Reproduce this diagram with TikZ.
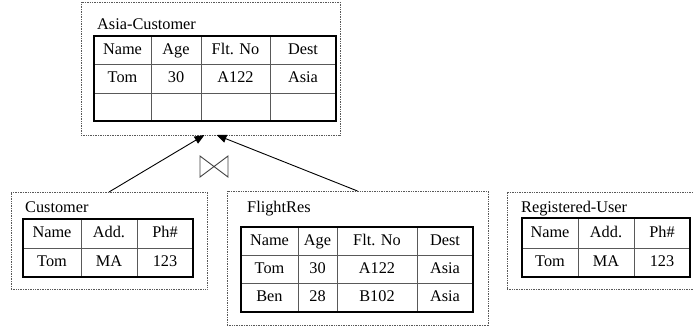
\documentclass[tikz,border=0pt]{standalone}
\usepackage{fontspec}
\setmainfont{Liberation Serif}
\usepackage{tikz}
\usetikzlibrary{arrows.meta,calc}
\tikzset{
    % dotted frame round each relation
    relbox/.style={
        rectangle,
        draw=gray!70!black,
        dash pattern=on 1pt off 0.7pt,
        line width=0.9pt,
        outer sep=0pt,
        inner sep=0pt,
    },
    % relation name above the table
    relname/.style={
        anchor=base west,
        inner sep=0pt,
        font=\fontsize{16.3}{19}\selectfont,
    },
    % heavy table border
    tabborder/.style={
        draw=black,
        line width=2.6pt,
    },
    % thin grid lines inside a table
    cellline/.style={
        draw=gray!70!black,
        line width=0.9pt,
    },
    % text of one cell
    cell/.style={
        inner sep=0pt,
        text height=11pt,
        text depth=3pt,
        font=\fontsize{16.3}{19}\selectfont,
    },
    % view derivation arrow
    link/.style={
        -{Triangle[length=10pt, width=8pt]},
        line width=0.9pt,
        draw=black,
    },
    % join symbol
    joinsym/.style={
        draw=gray!50!black,
        line width=0.9pt,
    },
}
\begin{document}
\begin{tikzpicture}[x=1pt, y=-1pt]
    \useasboundingbox (0,0) rectangle (693,327);

    % frames
    \node (asia) [relbox, minimum width=259pt, minimum height=133pt] at (210.5,68.5) {};
    \node (cust) [relbox, minimum width=196pt, minimum height=97pt] at (109,240.5) {};
    \node (flight) [relbox, minimum width=261pt, minimum height=134pt] at (357.5,258) {};
    \node (reg) [relbox, minimum width=200pt, minimum height=97pt] at (607,240.5) {};

    \node (asia-name) [relname] at (97,29) {Asia-Customer};
    \node (cust-name) [relname] at (25,212) {Customer};
    \node (flight-name) [relname] at (247,212) {FlightRes};
    \node (reg-name) [relname] at (521,212) {Registered-User};

    % Asia-Customer table
    \foreach \x in {151,201,270} \draw[cellline] (\x,36) -- (\x,121);
    \foreach \y in {64,93} \draw[cellline] (94,\y) -- (336,\y);
    \draw[tabborder] (94,36) rectangle (336,121);
    \foreach \x/\t [count=\i] in {122.5/Name,176/Age,235.5/Flt. No,303/Dest}
        \node (ac-h\i) [cell] at (\x,50) {\t};
    \foreach \x/\t [count=\i] in {122.5/Tom,176/30,235.5/A122,303/Asia}
        \node (ac-r\i) [cell] at (\x,78.5) {\t};

    % Customer table
    \foreach \x in {81,137} \draw[cellline] (\x,219) -- (\x,277);
    \draw[cellline] (23,248) -- (193,248);
    \draw[tabborder] (23,219) rectangle (193,277);
    \foreach \x/\t [count=\i] in {52/Name,109/Add.,165/Ph\#}
        \node (cu-h\i) [cell] at (\x,233.5) {\t};
    \foreach \x/\t [count=\i] in {52/Tom,109/MA,165/123}
        \node (cu-r\i) [cell] at (\x,262.5) {\t};

    % FlightRes table
    \foreach \x in {298,337,417} \draw[cellline] (\x,227) -- (\x,312);
    \foreach \y in {255,283} \draw[cellline] (241,\y) -- (473,\y);
    \draw[tabborder] (241,227) rectangle (473,312);
    \foreach \x/\t [count=\i] in {269.5/Name,317.5/Age,377/Flt. No,445/Dest}
        \node (fr-h\i) [cell] at (\x,241) {\t};
    \foreach \x/\t [count=\i] in {269.5/Tom,317.5/30,377/A122,445/Asia}
        \node (fr-a\i) [cell] at (\x,269) {\t};
    \foreach \x/\t [count=\i] in {269.5/Ben,317.5/28,377/B102,445/Asia}
        \node (fr-b\i) [cell] at (\x,297.5) {\t};

    % Registered-User table
    \foreach \x in {578,634} \draw[cellline] (\x,218) -- (\x,277);
    \draw[cellline] (522,248) -- (690,248);
    \draw[tabborder] (522,218) rectangle (690,277);
    \foreach \x/\t [count=\i] in {550/Name,606/Add.,662/Ph\#}
        \node (ru-h\i) [cell] at (\x,233) {\t};
    \foreach \x/\t [count=\i] in {550/Tom,606/MA,662/123}
        \node (ru-r\i) [cell] at (\x,262.5) {\t};

    % derivation of the view
    \draw[link] (cust.north) -- ([xshift=-6pt]asia.south);
    \draw[link] (flight.north) -- ([xshift=6pt]asia.south);

    % join symbol
    \coordinate (bowtie) at (214,166.5);
    \draw[joinsym] ($(bowtie)+(-14,-10.5)$) -- ($(bowtie)+(14,10.5)$)
        -- ($(bowtie)+(14,-10.5)$) -- ($(bowtie)+(-14,10.5)$) -- cycle;
\end{tikzpicture}
\end{document}
